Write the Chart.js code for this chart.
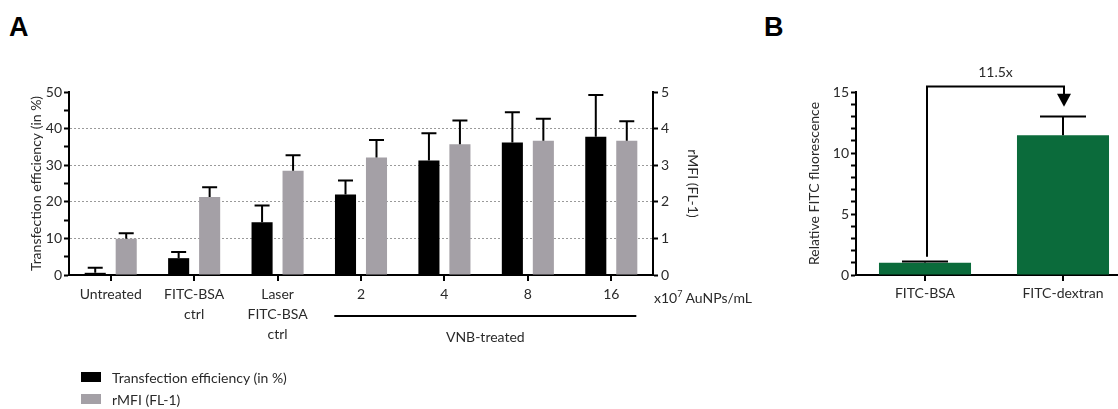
<!DOCTYPE html>
<html>
<head>
<meta charset="utf-8">
<script src="https://cdn.jsdelivr.net/npm/chart.js@4/dist/chart.umd.min.js"></script>
<style>
  html, body { margin: 0; padding: 0; background: #fff; width: 1118px; height: 409px; overflow: hidden; }
  body { position: relative; font-family: Lato, "Open Sans", sans-serif; color: #2a2a2a; }
  #wrapA { position: absolute; left: 0; top: 0; width: 780px; height: 409px; }
  #wrapB { position: absolute; left: 780px; top: 0; width: 352px; height: 409px; }
  .panel { position: absolute; font: bold 27px "Liberation Sans", Arial, sans-serif; line-height: 1; color: #000; }
  .unit { position: absolute; left: 654px; top: 291px; font-size: 14px; line-height: 14px; white-space: nowrap; }
  .unit sup { font-size: 9px; vertical-align: 6px; line-height: 0; }
  .legend { position: absolute; left: 81px; font-size: 14px; line-height: 14px; white-space: nowrap; }
  .legend span { display: inline-block; width: 20px; height: 10px; margin-right: 11px; vertical-align: 1px; }
</style>
</head>
<body>
<div class="panel" style="left:9px;top:14px">A</div>
<div class="panel" style="left:764px;top:14px">B</div>
<div id="wrapA"><canvas id="chartA"></canvas></div>
<div id="wrapB"><canvas id="chartB"></canvas></div>
<div class="unit">x10<sup>7</sup> AuNPs/mL</div>
<div class="legend" style="top:371px"><span style="background:#000"></span>Transfection efficiency (in %)</div>
<div class="legend" style="top:393px"><span style="background:#a4a0a6"></span>rMFI (FL-1)</div>

<script>
// --- DATA ---
// Panel A
const categoriesA = [['Untreated'], ['FITC-BSA', 'ctrl'], ['Laser', 'FITC-BSA', 'ctrl'], '2', '4', '8', '16'];
const transfection = [0.6, 4.6, 14.4, 22.0, 31.3, 36.2, 37.8];     // %
const transfectionErr = [1.4, 1.7, 4.6, 3.8, 7.4, 8.3, 11.4];
const rmfi = [0.99, 2.13, 2.85, 3.21, 3.57, 3.67, 3.67];           // rMFI (FL-1)
const rmfiErr = [0.15, 0.27, 0.42, 0.48, 0.65, 0.60, 0.53];
const groupLabel = 'VNB-treated';

// Panel B
const categoriesB = ['FITC-BSA', 'FITC-dextran'];
const fitcRel = [1.0, 11.45];
const fitcErr = [0.1, 1.55];
const foldLabel = '11.5x';

const FONT = 'Lato, "Open Sans", sans-serif';
const TXT = '#2a2a2a';
Chart.defaults.font.family = FONT;
Chart.defaults.font.size = 14;
Chart.defaults.color = TXT;

// Upper error bars (mean + SD) drawn from each bar element
const errorBars = {
  id: 'errorBars',
  afterDatasetsDraw(chart) {
    const ctx = chart.ctx;
    chart.data.datasets.forEach((ds, i) => {
      if (!ds.errors) return;
      const meta = chart.getDatasetMeta(i);
      const scale = chart.scales[meta.yAxisID];
      meta.data.forEach((bar, j) => {
        const top = scale.getPixelForValue(ds.data[j] + ds.errors[j]);
        ctx.save();
        ctx.strokeStyle = '#000';
        ctx.lineWidth = 2;
        ctx.beginPath();
        ctx.moveTo(bar.x, bar.y);
        ctx.lineTo(bar.x, top);
        ctx.moveTo(bar.x - ds.capWidth / 2, top);
        ctx.lineTo(bar.x + ds.capWidth / 2, top);
        ctx.stroke();
        ctx.restore();
      });
    });
  }
};

// Line + label under the VNB-treated groups
const groupBracket = {
  id: 'groupBracket',
  afterDraw(chart) {
    const x = chart.scales.x;
    const ctx = chart.ctx;
    const step = x.getPixelForValue(1) - x.getPixelForValue(0);
    const x1 = x.getPixelForValue(3) - 0.32 * step;
    const x2 = x.getPixelForValue(6) + 0.3 * step;
    const y = chart.chartArea.bottom + 41;
    ctx.save();
    ctx.strokeStyle = '#000';
    ctx.lineWidth = 2;
    ctx.beginPath();
    ctx.moveTo(x1, y);
    ctx.lineTo(x2, y);
    ctx.stroke();
    ctx.fillStyle = TXT;
    ctx.font = '14px ' + FONT;
    ctx.textAlign = 'center';
    ctx.textBaseline = 'middle';
    ctx.fillText(groupLabel, (x1 + x2) / 2, chart.chartArea.bottom + 62);
    ctx.restore();
  }
};

new Chart(document.getElementById('chartA'), {
  type: 'bar',
  data: {
    labels: categoriesA,
    datasets: [
      {
        label: 'Transfection efficiency (in %)',
        data: transfection,
        errors: transfectionErr,
        capWidth: 15,
        backgroundColor: '#000',
        yAxisID: 'y'
      },
      {
        label: 'rMFI (FL-1)',
        data: rmfi,
        errors: rmfiErr,
        capWidth: 15,
        backgroundColor: '#a4a0a6',
        yAxisID: 'y1'
      }
    ]
  },
  options: {
    responsive: true,
    maintainAspectRatio: false,
    animation: false,
    categoryPercentage: 0.743,
    barPercentage: 0.68,
    layout: { padding: { left: 28, right: 67, top: 92, bottom: 54 } },
    plugins: { legend: { display: false }, tooltip: { enabled: false } },
    scales: {
      x: {
        grid: { offset: false, drawOnChartArea: false, color: '#000', lineWidth: 2, tickLength: 6 },
        border: { color: '#000', width: 2 },
        ticks: { maxRotation: 0, autoSkip: false, padding: 4, font: { size: 14, lineHeight: 1.4 } },
        afterFit: s => { s.height = 80; }
      },
      y: {
        position: 'left',
        min: 0,
        max: 50,
        ticks: { stepSize: 5, autoSkip: false, padding: 2, callback: v => (v % 10 === 0 ? v : '') },
        grid: {
          color: c => (c.tick && c.tick.value % 10 === 0 && c.tick.value > 0 && c.tick.value < 50 ? '#9a9a9a' : 'rgba(0,0,0,0)'),
          tickColor: '#000',
          tickWidth: 2,
          tickLength: 5,
          lineWidth: 1
        },
        border: { color: '#000', width: 2, dash: [2, 2] },
        title: { display: true, text: 'Transfection efficiency (in %)', padding: { top: 0, bottom: 0 } },
        afterFit: s => { s.width = 41; }
      },
      y1: {
        position: 'right',
        min: 0,
        max: 5,
        ticks: { stepSize: 1, padding: 3 },
        grid: { drawOnChartArea: false, tickColor: '#000', tickWidth: 2, tickLength: 5 },
        border: { color: '#000', width: 2 },
        title: { display: true, text: 'rMFI (FL-1)', padding: { top: 12, bottom: 0 } },
        afterFit: s => { s.width = 60; }
      }
    }
  },
  plugins: [errorBars, groupBracket]
});

// Fold-change bracket with arrow in panel B
const foldArrow = {
  id: 'foldArrow',
  afterDraw(chart) {
    const x = chart.scales.x, y = chart.scales.y;
    const ctx = chart.ctx;
    const x1 = x.getPixelForValue(0) + 2;
    const x2 = x.getPixelForValue(1) + 1;
    const yStart = y.getPixelForValue(1.5);
    const yTop = y.getPixelForValue(15.45);
    const yTip = y.getPixelForValue(13.8);
    ctx.save();
    ctx.strokeStyle = '#000';
    ctx.fillStyle = '#000';
    ctx.lineWidth = 2;
    ctx.beginPath();
    ctx.moveTo(x1, yStart);
    ctx.lineTo(x1, yTop);
    ctx.lineTo(x2, yTop);
    ctx.lineTo(x2, yTip - 10);
    ctx.stroke();
    ctx.beginPath();
    ctx.moveTo(x2 - 7, yTip - 13);
    ctx.lineTo(x2 + 7, yTip - 13);
    ctx.lineTo(x2, yTip);
    ctx.closePath();
    ctx.fill();
    ctx.fillStyle = TXT;
    ctx.font = '14px ' + FONT;
    ctx.textAlign = 'center';
    ctx.textBaseline = 'middle';
    ctx.fillText(foldLabel, (x1 + x2) / 2, yTop - 14);
    ctx.restore();
  }
};

new Chart(document.getElementById('chartB'), {
  type: 'bar',
  data: {
    labels: categoriesB,
    datasets: [{
      label: 'Relative FITC fluorescence',
      data: fitcRel,
      errors: fitcErr,
      capWidth: 46,
      backgroundColor: '#0b6b3b',
      yAxisID: 'y'
    }]
  },
  options: {
    responsive: true,
    maintainAspectRatio: false,
    animation: false,
    categoryPercentage: 1,
    barPercentage: 0.667,
    layout: { padding: { left: 20, right: 0, top: 92, bottom: 94 } },
    plugins: { legend: { display: false }, tooltip: { enabled: false } },
    scales: {
      x: {
        grid: { offset: false, drawOnChartArea: false, color: '#000', lineWidth: 2, tickLength: 6 },
        border: { color: '#000', width: 2 },
        ticks: { maxRotation: 0, autoSkip: false, padding: 4 },
        afterFit: s => { s.height = 40; }
      },
      y: {
        min: 0,
        max: 15,
        ticks: { stepSize: 1, autoSkip: false, padding: 2, callback: v => (v % 5 === 0 ? v : '') },
        grid: { drawOnChartArea: false, color: '#000', tickColor: '#000', tickWidth: 2, tickLength: 5 },
        border: { color: '#000', width: 2 },
        title: { display: true, text: 'Relative FITC fluorescence', padding: { top: 6, bottom: 0 } },
        afterFit: s => { s.width = 56; }
      }
    }
  },
  plugins: [errorBars, foldArrow]
});
</script>
</body>
</html>
